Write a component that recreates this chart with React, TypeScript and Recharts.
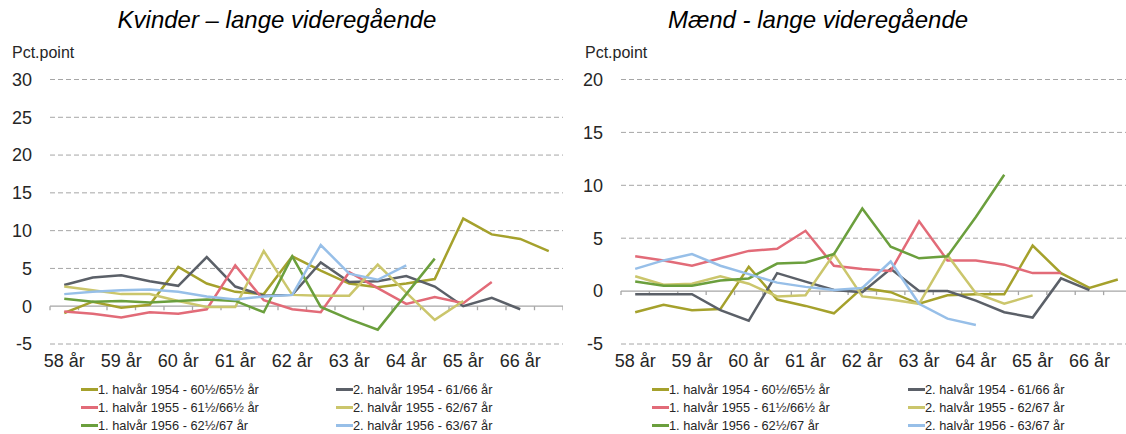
import React from 'react';
import { LineChart, Line, XAxis, YAxis, CartesianGrid, ReferenceLine } from 'recharts';

// age in half-year steps, 58 to 66½
const ages = [58, 58.5, 59, 59.5, 60, 60.5, 61, 61.5, 62, 62.5, 63, 63.5, 64, 64.5, 65, 65.5, 66, 66.5];
const yearTicks = [58, 59, 60, 61, 62, 63, 64, 65, 66];

const seriesNames = [
  '1. halvår 1954 - 60½/65½ år',
  '2. halvår 1954 - 61/66 år',
  '1. halvår 1955 - 61½/66½ år',
  '2. halvår 1955 - 62/67 år',
  '1. halvår 1956 - 62½/67 år',
  '2. halvår 1956 - 63/67 år',
];
const seriesColors = ['#a5a12c', '#5b6068', '#e26b78', '#cbc66c', '#6b9f3d', '#97bfe8'];

// Kvinder
const kv1954h1 = [-0.9, 0.6, -0.2, 0.2, 5.2, 3.0, 1.9, 1.6, 6.6, 4.7, 3.0, 2.5, 3.0, 3.6, 11.6, 9.5, 8.9, 7.3];
const kv1954h2 = [2.8, 3.8, 4.1, 3.3, 2.7, 6.5, 2.6, 1.4, 1.5, 5.8, 3.2, 3.3, 4.0, 2.6, 0.0, 1.1, -0.4, null];
const kv1955h1 = [-0.7, -1.0, -1.5, -0.8, -1.0, -0.4, 5.4, 0.8, -0.4, -0.8, 4.5, 2.4, 0.3, 1.2, 0.4, 3.2, null, null];
const kv1955h2 = [2.6, 2.1, 1.6, 1.6, 0.7, -0.1, -0.1, 7.3, 1.5, 1.4, 1.4, 5.5, 1.8, -1.8, 0.7, null, null, null];
const kv1956h1 = [1.0, 0.6, 0.7, 0.5, 0.7, 0.9, 0.7, -0.8, 6.6, -0.1, -1.7, -3.1, 1.6, 6.3, null, null, null, null];
const kv1956h2 = [1.6, 1.9, 2.1, 2.2, 1.9, 1.3, 0.9, 1.3, 1.5, 8.1, 4.3, 3.5, 5.4, null, null, null, null, null];

// Mænd
const m1954h1 = [-2.0, -1.3, -1.8, -1.7, 2.3, -0.8, -1.4, -2.1, 0.3, -0.1, -1.2, -0.4, -0.3, -0.3, 4.3, 1.7, 0.3, 1.1];
const m1954h2 = [-0.3, -0.3, -0.3, -1.8, -2.8, 1.7, 0.9, 0.1, -0.1, 2.1, 0.0, 0.0, -0.9, -2.0, -2.5, 1.2, 0.1, null];
const m1955h1 = [3.3, 2.9, 2.4, 3.1, 3.8, 4.0, 5.7, 2.4, 2.1, 1.9, 6.6, 2.9, 2.9, 2.5, 1.7, 1.7, null, null];
const m1955h2 = [1.4, 0.6, 0.7, 1.4, 0.7, -0.5, -0.4, 3.5, -0.5, -0.8, -1.2, 3.4, -0.2, -1.2, -0.4, null, null, null];
const m1956h1 = [0.9, 0.5, 0.5, 1.0, 1.2, 2.6, 2.7, 3.5, 7.8, 4.2, 3.1, 3.3, 7.0, 11.0, null, null, null, null];
const m1956h2 = [2.1, 2.9, 3.5, 2.4, 1.6, 0.8, 0.4, 0.1, 0.3, 2.8, -1.2, -2.6, -3.2, null, null, null, null, null];

const kvTicks = [-5, 0, 5, 10, 15, 20, 25, 30];
const mTicks = [-5, 0, 5, 10, 15, 20];

const FONT = '"Liberation Sans", Arial, sans-serif';
const TEXT = '#262626';
const GRID = '#a6a6a6';

const buildRows = (series: (number | null)[][]) =>
  ages.map((age, i) => {
    const row: Record<string, number | null> = { age };
    series.forEach((s, k) => (row['s' + k] = s[i]));
    return row;
  });

const boundaries = [...ages.map(a => a - 0.25), ages[ages.length - 1] + 0.25];

function Panel({ rows, ticks, tickLen, width, yWidth }: {
  rows: Record<string, number | null>[]; ticks: number[]; tickLen: number; width: number; yWidth: number;
}) {
  return (
    <LineChart width={width} height={380} data={rows} margin={{ top: 79.5, right: 0, left: 0, bottom: 0 }}>
      <CartesianGrid vertical={false} stroke={GRID} strokeDasharray="5 3" horizontalValues={ticks.filter(t => t !== 0)} />
      <XAxis dataKey="age" type="number" domain={[57.75, 66.75]} ticks={yearTicks} allowDataOverflow
        tickFormatter={(v: number) => `${v} år`} axisLine={false} tickLine={false} height={36} tickMargin={4}
        tick={{ fill: TEXT, fontSize: 18, fontFamily: FONT }} interval={0} />
      <YAxis domain={[ticks[0], ticks[ticks.length - 1]]} ticks={ticks} axisLine={false} tickLine={false}
        width={yWidth} tickMargin={12} interval={0} tick={{ fill: TEXT, fontSize: 18, fontFamily: FONT }} />
      <ReferenceLine y={0} stroke={GRID} strokeWidth={1.3} />
      {boundaries.map(b => (
        <ReferenceLine key={b} segment={[{ x: b, y: 0 }, { x: b, y: -tickLen }]} stroke={GRID} strokeWidth={1.3} />
      ))}
      {seriesColors.map((c, k) => (
        <Line key={k} dataKey={'s' + k} stroke={c} strokeWidth={2.5} dot={false} isAnimationActive={false} />
      ))}
    </LineChart>
  );
}

function LegendBlock({ left, colLeft, col2Left }: { left: number; colLeft: number; col2Left: number }) {
  return (
    <div style={{ position: 'absolute', left, top: 380, fontFamily: FONT, fontSize: 12.8, color: TEXT }}>
      {seriesNames.map((n, k) => (
        <div key={n} style={{
          position: 'absolute', left: k % 2 === 0 ? colLeft : col2Left, top: Math.floor(k / 2) * 18,
          whiteSpace: 'nowrap', display: 'flex', alignItems: 'center', height: 18,
        }}>
          <span style={{ display: 'inline-block', width: 17, height: 3, background: seriesColors[k] }} />
          <span>{n}</span>
        </div>
      ))}
    </div>
  );
}

export default function App() {
  const kvRows = buildRows([kv1954h1, kv1954h2, kv1955h1, kv1955h2, kv1956h1, kv1956h2]);
  const mRows = buildRows([m1954h1, m1954h2, m1955h1, m1955h2, m1956h1, m1956h2]);
  const title: React.CSSProperties = {
    position: 'absolute', top: 6, fontFamily: FONT, fontStyle: 'italic', fontSize: 24, color: '#000',
    whiteSpace: 'nowrap', transform: 'translateX(-50%)',
  };
  const unit: React.CSSProperties = { position: 'absolute', top: 44, fontFamily: FONT, fontSize: 16, color: TEXT };
  return (
    <div style={{ position: 'absolute', left: 0, top: 0, width: 1126, height: 434, overflow: 'hidden', background: '#fff' }}>
      <div style={{ ...title, left: 277 }}>Kvinder – lange videregående</div>
      <div style={{ ...title, left: 818 }}>Mænd - lange videregående</div>
      <div style={{ ...unit, left: 12 }}>Pct.point</div>
      <div style={{ ...unit, left: 585 }}>Pct.point</div>
      <div style={{ position: 'absolute', left: 0, top: 0 }}>
        <Panel rows={kvRows} ticks={kvTicks} tickLen={0.53} width={563} yWidth={50} />
      </div>
      <div style={{ position: 'absolute', left: 570, top: 0 }}>
        <Panel rows={mRows} ticks={mTicks} tickLen={0.38} width={562} yWidth={51} />
      </div>
      <LegendBlock left={0} colLeft={81} col2Left={336} />
      <LegendBlock left={570} colLeft={82} col2Left={338} />
    </div>
  );
}
